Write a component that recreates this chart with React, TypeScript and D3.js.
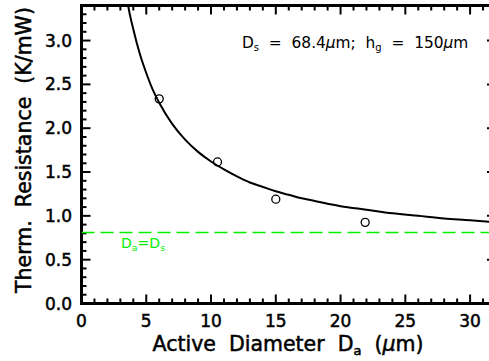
import React from "react";
import * as d3 from "d3";

// measured points (active diameter um, thermal resistance K/mW)
const pointX = [6.0, 10.5, 15.0, 21.9];
const pointY = [2.335, 1.615, 1.19, 0.926];

// fitted curve
const curveX = [3.5, 3.6, 4.0, 4.5, 5.0, 5.5, 6.0, 7.0, 8.0, 9.0, 10.0, 11.0, 12.0, 13.0, 14.0, 15.0, 16.0, 17.0, 18.0, 20.0, 22.0, 24.0, 26.0, 28.0, 30.0, 32.0];
const curveY = [3.5, 3.4, 3.13, 2.85, 2.63, 2.44, 2.29, 2.05, 1.87, 1.73, 1.62, 1.53, 1.45, 1.38, 1.33, 1.28, 1.24, 1.2, 1.17, 1.11, 1.07, 1.03, 1.0, 0.97, 0.95, 0.925];

const refLine = 0.81;

const xTicks = [0, 5, 10, 15, 20, 25, 30];
const yTicks = [0, 0.5, 1.0, 1.5, 2.0, 2.5, 3.0];

const W = 489;
const H = 361;
const left = 81.5;
const right = 496;
const top = 5.5;
const bottom = 303.5;
const font = "'DejaVu Sans', sans-serif";
const green = "#00f000";

const App = () => {
  const x = d3.scaleLinear().domain([0, 32]).range([left, right]);
  const y = d3.scaleLinear().domain([0, 3.4]).range([bottom, top]);

  const minorX = d3.range(0, 33, 1).filter((v) => v % 5 !== 0);
  const minorY = d3.range(0, 35, 1).map((v) => v / 10).filter((v) => Math.round(v * 10) % 5 !== 0);

  const lineGen = d3
    .line<number>()
    .x((d, i) => x(curveX[i]))
    .y((d) => y(d))
    .curve(d3.curveMonotoneX);

  const major = 9;
  const minor = 5;

  return (
    <svg width={W} height={H} style={{ position: "absolute", left: 0, top: 0, background: "#fff" }}>
      <defs>
        <clipPath id="plot">
          <rect x={left} y={top} width={right - left} height={bottom - top} />
        </clipPath>
      </defs>

      {/* ticks on all four sides */}
      <g stroke="#000" strokeWidth={2}>
        {xTicks.map((t) => (
          <g key={"xM" + t}>
            <line x1={x(t)} x2={x(t)} y1={bottom} y2={bottom - major} />
            <line x1={x(t)} x2={x(t)} y1={top} y2={top + major} />
          </g>
        ))}
        {minorX.map((t) => (
          <g key={"xm" + t}>
            <line x1={x(t)} x2={x(t)} y1={bottom} y2={bottom - minor} />
            <line x1={x(t)} x2={x(t)} y1={top} y2={top + minor} />
          </g>
        ))}
        {yTicks.map((t) => (
          <g key={"yM" + t}>
            <line x1={left} x2={left + major} y1={y(t)} y2={y(t)} />
            <line x1={right} x2={right - major} y1={y(t)} y2={y(t)} />
          </g>
        ))}
        {minorY.map((t) => (
          <g key={"ym" + t}>
            <line x1={left} x2={left + minor} y1={y(t)} y2={y(t)} />
            <line x1={right} x2={right - minor} y1={y(t)} y2={y(t)} />
          </g>
        ))}
      </g>

      <rect x={left} y={top} width={right - left} height={bottom - top} fill="none" stroke="#000" strokeWidth={3} />

      <g clipPath="url(#plot)">
        <line x1={left} x2={right} y1={y(refLine)} y2={y(refLine)} stroke={green} strokeWidth={1.5} strokeDasharray="13 6" />
        <path d={lineGen(curveY) || ""} fill="none" stroke="#000" strokeWidth={2} />
        {pointX.map((px, i) => (
          <circle key={i} cx={x(px)} cy={y(pointY[i])} r={4} fill="none" stroke="#000" strokeWidth={1.3} />
        ))}
      </g>

      {/* tick labels */}
      <g fontFamily={font} fontSize={17} fill="#000" stroke="#000" strokeWidth={0.5}>
        {xTicks.map((t) => (
          <text key={"xl" + t} x={x(t)} y={327} textAnchor="middle">
            {t}
          </text>
        ))}
        {yTicks.map((t) => (
          <text key={"yl" + t} x={72} y={y(t) + 6} textAnchor="end">
            {t.toFixed(1)}
          </text>
        ))}
      </g>

      {/* axis titles */}
      <g fontFamily={font} fontSize={20.5} stroke="#000" strokeWidth={0.5}>
        <text x={288} y={351} textAnchor="middle" xmlSpace="preserve">
          Active  Diameter  D<tspan fontSize={13} dy={4}>a</tspan><tspan dy={-4}>  (</tspan>
          <tspan fontStyle="italic">μ</tspan>m)
        </text>
        <text transform="translate(31,150) rotate(-90)" textAnchor="middle" xmlSpace="preserve">
          Therm.  Resistance  (K/mW)
        </text>
      </g>

      {/* annotations */}
      <text x={242} y={48} fontFamily={font} fontSize={15.4} xmlSpace="preserve">
        D<tspan fontSize={10} dy={3}>s</tspan><tspan dy={-3}>  =  68.4</tspan>
        <tspan fontStyle="italic">μ</tspan>m;  h<tspan fontSize={10} dy={3}>g</tspan>
        <tspan dy={-3}>  =  150</tspan><tspan fontStyle="italic">μ</tspan>m
      </text>
      <text x={121} y={248} fontFamily={font} fontSize={14} fill={green} xmlSpace="preserve">
        D<tspan fontSize={9.5} dy={3}>a</tspan><tspan dy={-3}>=D</tspan>
        <tspan fontSize={9.5} dy={3}>s</tspan>
      </text>
    </svg>
  );
};

export default App;
